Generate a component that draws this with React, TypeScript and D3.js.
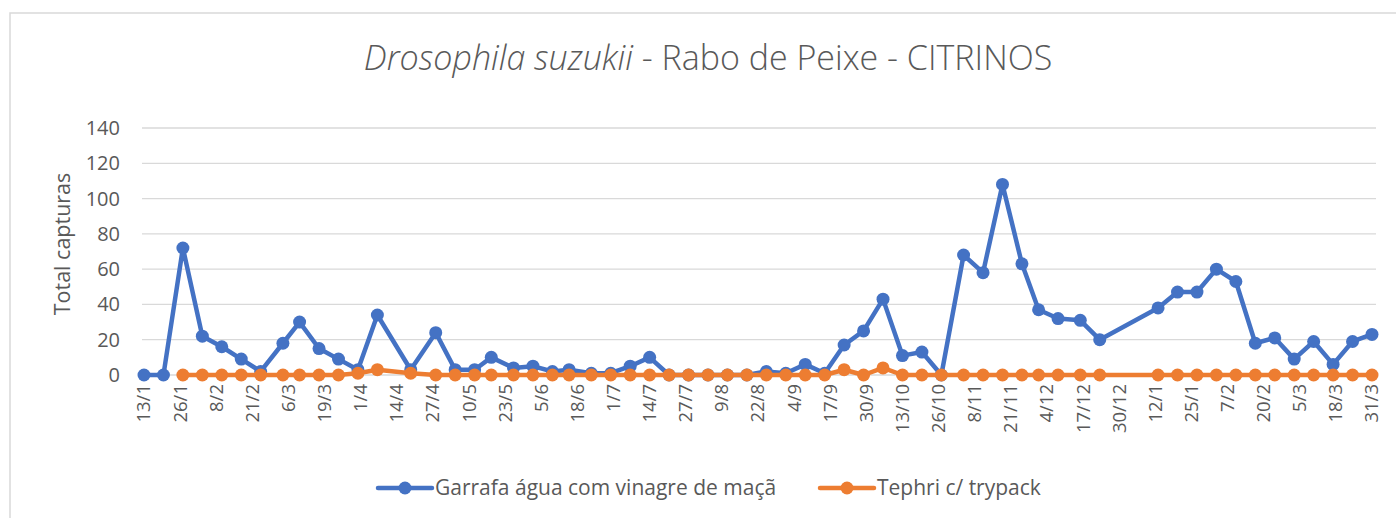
import React from 'react';
import * as d3 from 'd3';

// sampling dates (day/month shown on axis)
const dates = [
  '2021-01-13', '2021-01-20', '2021-01-27', '2021-02-03', '2021-02-10', '2021-02-17', '2021-02-24',
  '2021-03-04', '2021-03-10', '2021-03-17', '2021-03-24', '2021-03-31', '2021-04-07',
  '2021-04-19', '2021-04-28', '2021-05-05', '2021-05-12', '2021-05-18', '2021-05-26',
  '2021-06-02', '2021-06-09', '2021-06-15', '2021-06-23', '2021-06-30', '2021-07-07', '2021-07-14',
  '2021-07-21', '2021-07-28', '2021-08-04', '2021-08-11', '2021-08-18', '2021-08-25',
  '2021-09-01', '2021-09-08', '2021-09-15', '2021-09-22', '2021-09-29', '2021-10-06',
  '2021-10-13', '2021-10-20', '2021-10-27', '2021-11-04', '2021-11-11', '2021-11-18',
  '2021-11-25', '2021-12-01', '2021-12-08', '2021-12-16', '2021-12-23',
  '2022-01-13', '2022-01-20', '2022-01-27', '2022-02-03', '2022-02-10', '2022-02-17', '2022-02-24',
  '2022-03-03', '2022-03-10', '2022-03-17', '2022-03-24', '2022-03-31',
];

const garrafa = [
  0, 0, 72, 22, 16, 9, 2,
  18, 30, 15, 9, 3, 34,
  3, 24, 3, 3, 10, 4,
  5, 2, 3, 1, 1, 5, 10,
  0, 0, 0, 0, 0, 2,
  1, 6, 1, 17, 25, 43,
  11, 13, 0, 68, 58, 108,
  63, 37, 32, 31, 20,
  38, 47, 47, 60, 53, 18, 21,
  9, 19, 6, 19, 23,
];

const tephri: (number | null)[] = [
  null, null, 0, 0, 0, 0, 0,
  0, 0, 0, 0, 1, 3,
  1, 0, 0, 0, 0, 0,
  0, 0, 0, 0, 0, 0, 0,
  0, 0, 0, 0, 0, 0,
  0, 0, 0, 3, 0, 4,
  0, 0, 0, 0, 0, 0,
  0, 0, 0, 0, 0,
  0, 0, 0, 0, 0, 0, 0,
  0, 0, 0, 0, 0,
];

const yTicks = [0, 20, 40, 60, 80, 100, 120, 140];
const seriesNames = ['Garrafa água com vinagre de maçã', 'Tephri c/ trypack'];
const colors = ['#4472C4', '#ED7D31'];

const W = 1396;
const H = 518;
const FONT = '"Open Sans", Lato, sans-serif';
const TEXT = '#595959';

export default function App() {
  const parse = d3.timeParse('%Y-%m-%d');
  const xDates = dates.map((d) => parse(d) as Date);
  const start = xDates[0];
  const end = xDates[xDates.length - 1];

  const x = d3.scaleTime().domain([start, end]).range([144, 1372]);
  const y = d3.scaleLinear().domain([0, 140]).range([375, 128]);

  const xTicks = d3.range(35).map((i) => d3.timeDay.offset(start, i * 13));
  const fmt = d3.timeFormat('%-d/%-m');

  const series = [garrafa, tephri].map((vals) =>
    vals
      .map((v, i) => ({ date: xDates[i], v }))
      .filter((p) => p.v !== null) as { date: Date; v: number }[]
  );

  const line = d3
    .line<{ date: Date; v: number }>()
    .x((d) => x(d.date))
    .y((d) => y(d.v));

  const legendItems = [
    { x0: 378, label: seriesNames[0], color: colors[0] },
    { x0: 820, label: seriesNames[1], color: colors[1] },
  ];

  return (
    <svg
      width={W}
      height={H}
      style={{ position: 'absolute', left: 0, top: 0, background: '#fff' }}
      fontFamily={FONT}
    >
      <rect x={10} y={13} width={W + 20} height={H + 20} fill="#fff" stroke="#d9d9d9" strokeWidth={1.5} />

      <text x={708} y={70} textAnchor="middle" fontSize={34} fontWeight={300} fill={TEXT}>
        <tspan fontStyle="italic">Drosophila suzukii</tspan>
        <tspan> - Rabo de Peixe - CITRINOS</tspan>
      </text>

      {yTicks.map((t) => (
        <g key={t}>
          <line x1={142} x2={1376} y1={y(t)} y2={y(t)} stroke="#d9d9d9" strokeWidth={1.3} />
          <text x={120} y={y(t)} dy="0.35em" textAnchor="end" fontSize={20} fill={TEXT}>
            {t}
          </text>
        </g>
      ))}

      <text
        transform={`translate(62,244) rotate(-90)`}
        dy="0.35em"
        textAnchor="middle"
        fontSize={21.5}
        fill={TEXT}
      >
        Total capturas
      </text>

      {xTicks.map((t, i) => (
        <text
          key={i}
          transform={`translate(${x(t)},384) rotate(-90)`}
          dy="0.35em"
          textAnchor="end"
          fontSize={18.5}
          fill={TEXT}
        >
          {fmt(t)}
        </text>
      ))}

      {series.map((pts, si) => (
        <g key={si}>
          <path d={line(pts) || ''} fill="none" stroke={colors[si]} strokeWidth={4.5} strokeLinejoin="round" />
          {pts.map((p, i) => (
            <circle key={i} cx={x(p.date)} cy={y(p.v)} r={6.5} fill={colors[si]} />
          ))}
        </g>
      ))}

      {legendItems.map((l, i) => (
        <g key={i}>
          <line x1={l.x0} x2={l.x0 + 54} y1={488} y2={488} stroke={l.color} strokeWidth={4.5} strokeLinecap="round" />
          <circle cx={l.x0 + 27} cy={488} r={6.5} fill={l.color} />
          <text x={l.x0 + 57} y={488} dy="0.35em" fontSize={21} fill={TEXT}>
            {l.label}
          </text>
        </g>
      ))}
    </svg>
  );
}
